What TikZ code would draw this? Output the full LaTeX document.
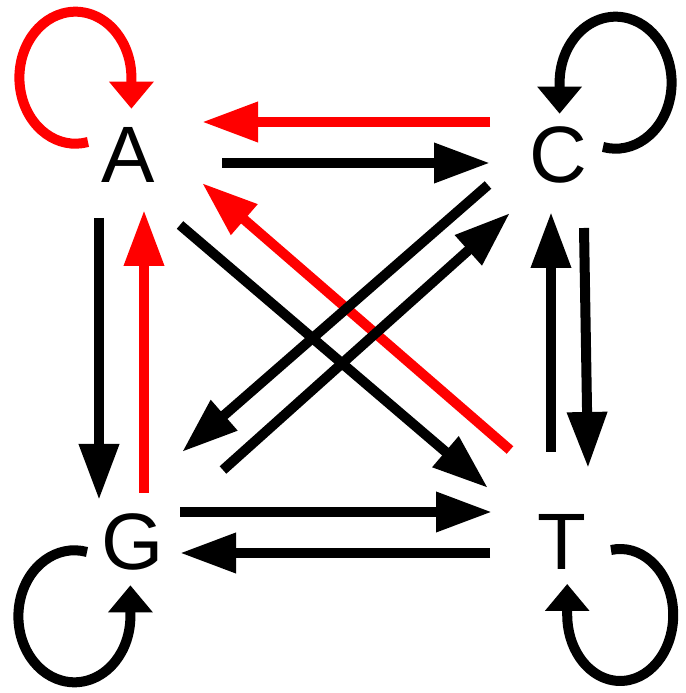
\documentclass[tikz,border=0pt]{standalone}
\usepackage{fontspec}
\setmainfont{Liberation Sans}
\usetikzlibrary{arrows.meta}

\begin{document}
\begin{tikzpicture}[x=1pt,y=1pt,
  letter/.style={font=\fontsize{80}{96}\selectfont, inner sep=0pt},
  edge/.style={line width=10pt, -{Triangle[length=56pt,width=38pt]}},
  selfloop/.style={line width=10pt, -{Triangle[length=27pt,width=43pt]}}]
\useasboundingbox (0,0) rectangle (685,693);
% bases
\node[letter] (A) at (128,538) {A};
\node[letter] (C) at (558,538) {C};
\node[letter] (G) at (133,151) {G};
\node[letter] (T) at (562,151) {T};
% self loops
\draw[selfloop, red] ([shift={(-40,13)}]A.center) arc[start angle=-77, end angle=-360, x radius=56, y radius=66] -- ++(0,-31);
\draw[selfloop] ([shift={(45,8)}]C.center) arc[start angle=-103, end angle=180, x radius=56, y radius=66] -- ++(0,-31);
\draw[selfloop] ([shift={(-46,-10)}]G.center) arc[start angle=77, end angle=360, x radius=56, y radius=66] -- ++(0,31);
\draw[selfloop] ([shift={(49,-8)}]T.center) arc[start angle=100, end angle=-180, x radius=53, y radius=66] -- ++(0,31);
% horizontal and vertical
\draw[edge, red] ([shift={(-68,33)}]C.center) -- ([shift={(74,33)}]A.center);
\draw[edge] ([shift={(94,-8)}]A.center) -- ([shift={(-68,-8)}]C.center);
\draw[edge] ([shift={(-29,-63)}]A.center) -- ([shift={(-34,42)}]G.center);
\draw[edge, red] ([shift={(11,49)}]G.center) -- ([shift={(16,-55)}]A.center);
\draw[edge] ([shift={(-11,90)}]T.center) -- ([shift={(-7,-57)}]C.center);
\draw[edge] ([shift={(26,-73)}]C.center) -- ([shift={(26,74)}]T.center);
\draw[edge] ([shift={(47,30)}]G.center) -- ([shift={(-70,30)}]T.center);
\draw[edge] ([shift={(-72,-11)}]T.center) -- ([shift={(47,-11)}]G.center);
% diagonals
\draw[edge, red] ([shift={(-52,92)}]T.center) -- ([shift={(74,-28)}]A.center);
\draw[edge] ([shift={(52,-70)}]A.center) -- ([shift={(-74,54)}]T.center);
\draw[edge] ([shift={(-70,-30)}]C.center) -- ([shift={(49,90)}]G.center);
\draw[edge] ([shift={(90,72)}]G.center) -- ([shift={(-48,-58)}]C.center);
\end{tikzpicture}
\end{document}
